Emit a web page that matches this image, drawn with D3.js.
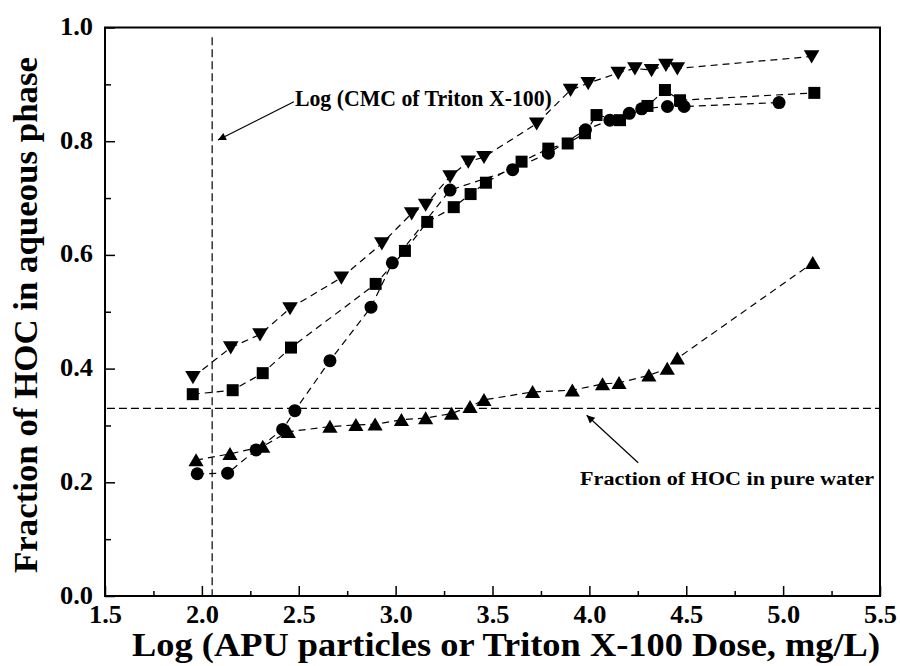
<!DOCTYPE html>
<html>
<head>
<meta charset="utf-8">
<script src="https://cdn.jsdelivr.net/npm/d3@7"></script>
<style>
  html, body { margin: 0; padding: 0; background: #fff; }
  svg { display: block; }
  text { font-family: "Liberation Serif", "Times New Roman", serif; font-weight: bold; fill: #000; }
</style>
</head>
<body>
<svg id="chart" width="900" height="666"></svg>
<script>
// ---- Data ----
const invTriX = [1.954, 2.149, 2.300, 2.455, 2.720, 2.929, 3.083, 3.155, 3.281, 3.375, 3.456, 3.728, 3.903, 3.994, 4.149, 4.235, 4.321, 4.395, 4.454, 5.147];
const invTriY = [0.385, 0.437, 0.460, 0.506, 0.560, 0.620, 0.673, 0.688, 0.738, 0.764, 0.772, 0.831, 0.890, 0.902, 0.920, 0.928, 0.925, 0.934, 0.928, 0.949];

const squareX = [1.953, 2.159, 2.314, 2.460, 2.897, 3.048, 3.163, 3.300, 3.387, 3.466, 3.650, 3.788, 3.888, 3.977, 4.037, 4.158, 4.300, 4.390, 4.468, 5.161];
const squareY = [0.355, 0.362, 0.392, 0.437, 0.549, 0.607, 0.658, 0.684, 0.707, 0.727, 0.764, 0.787, 0.796, 0.814, 0.846, 0.837, 0.862, 0.890, 0.872, 0.885];

const circleX = [1.976, 2.133, 2.280, 2.417, 2.480, 2.661, 2.873, 2.983, 3.281, 3.604, 3.788, 3.980, 4.106, 4.206, 4.270, 4.403, 4.489, 4.979];
const circleY = [0.215, 0.216, 0.257, 0.293, 0.326, 0.414, 0.508, 0.586, 0.714, 0.750, 0.779, 0.820, 0.837, 0.849, 0.857, 0.861, 0.861, 0.868];

const triX = [1.970, 2.145, 2.314, 2.446, 2.661, 2.795, 2.894, 3.030, 3.155, 3.289, 3.384, 3.456, 3.707, 3.912, 4.068, 4.153, 4.307, 4.402, 4.454, 5.153];
const triY = [0.239, 0.250, 0.263, 0.289, 0.298, 0.301, 0.302, 0.310, 0.313, 0.321, 0.333, 0.345, 0.359, 0.362, 0.373, 0.375, 0.388, 0.400, 0.418, 0.586];

const xTickLabels = ["1.5", "2.0", "2.5", "3.0", "3.5", "4.0", "4.5", "5.0", "5.5"];
const yTickLabels = ["0.0", "0.2", "0.4", "0.6", "0.8", "1.0"];

const cmcLog = 2.053;            // Log (CMC of Triton X-100)
const pureWaterFraction = 0.330; // Fraction of HOC in pure water

const xTitle = "Log (APU particles or Triton X-100 Dose, mg/L)";
const yTitle = "Fraction of HOC in aqueous phase";
const cmcLabel = "Log (CMC of Triton X-100)";
const waterLabel = "Fraction of HOC in pure water";

// ---- Layout ----
const svg = d3.select("#chart");
const plotL = 105, plotR = 880, plotT = 27.5, plotB = 596;

const x = d3.scaleLinear().domain([1.5, 5.5]).range([plotL, plotR]);
const y = d3.scaleLinear().domain([0, 1]).range([plotB, plotT]);

const xMajor = xTickLabels.map(Number);
const yMajor = yTickLabels.map(Number);
const xMinor = d3.range(1.75, 5.5, 0.5);
const yMinor = d3.range(0.1, 1.0, 0.2);

// ---- Axes (ticks pointing inward) ----
const xAxis = d3.axisBottom(x).tickValues(xMajor).tickSize(-10).tickPadding(16).tickFormat(d3.format(".1f"));
const gx = svg.append("g").attr("transform", `translate(0,${plotB})`).call(xAxis);
gx.select(".domain").remove();
gx.selectAll(".tick line").attr("stroke", "#000").attr("stroke-width", 1.5);
gx.selectAll(".tick text").attr("font-size", 25).attr("font-family", "Liberation Serif, serif").attr("font-weight", "bold")
  .attr("dy", "0.42em").attr("textLength", 33).attr("lengthAdjust", "spacingAndGlyphs");

const gxm = svg.append("g").attr("transform", `translate(0,${plotB})`)
  .call(d3.axisBottom(x).tickValues(xMinor).tickSize(-5).tickFormat(""));
gxm.select(".domain").remove();
gxm.selectAll(".tick line").attr("stroke", "#000").attr("stroke-width", 1.5);

const yAxis = d3.axisLeft(y).tickValues(yMajor).tickSize(-10).tickPadding(12).tickFormat(d3.format(".1f"));
const gy = svg.append("g").attr("transform", `translate(${plotL},0)`).call(yAxis);
gy.select(".domain").remove();
gy.selectAll(".tick line").attr("stroke", "#000").attr("stroke-width", 1.5);
gy.selectAll(".tick text").attr("font-size", 25).attr("font-family", "Liberation Serif, serif").attr("font-weight", "bold")
  .attr("dy", "0.28em").attr("textLength", 33).attr("lengthAdjust", "spacingAndGlyphs");

const gym = svg.append("g").attr("transform", `translate(${plotL},0)`)
  .call(d3.axisLeft(y).tickValues(yMinor).tickSize(-6).tickFormat(""));
gym.select(".domain").remove();
gym.selectAll(".tick line").attr("stroke", "#000").attr("stroke-width", 1.5);

// frame
svg.append("rect")
  .attr("x", plotL).attr("y", plotT)
  .attr("width", plotR - plotL).attr("height", plotB - plotT)
  .attr("fill", "none").attr("stroke", "#000").attr("stroke-width", 2);

// ---- Reference lines ----
svg.append("line")
  .attr("x1", x(cmcLog)).attr("x2", x(cmcLog))
  .attr("y1", y(0.983)).attr("y2", y(0))
  .attr("stroke", "#000").attr("stroke-width", 1.2).attr("stroke-dasharray", "8,4");
svg.append("line")
  .attr("x1", x(1.51)).attr("x2", x(5.5))
  .attr("y1", y(pureWaterFraction)).attr("y2", y(pureWaterFraction))
  .attr("stroke", "#000").attr("stroke-width", 1.2).attr("stroke-dasharray", "8,4");

// ---- Series ----
function zip(xs, ys) { return xs.map((v, i) => ({ x: v, y: ys[i] })); }
const series = [
  { name: "invTri", data: zip(invTriX, invTriY) },
  { name: "square", data: zip(squareX, squareY) },
  { name: "circle", data: zip(circleX, circleY) },
  { name: "tri", data: zip(triX, triY) }
];

const line = d3.line().x(d => x(d.x)).y(d => y(d.y));
svg.append("g").selectAll("path").data(series).join("path")
  .attr("d", s => line(s.data))
  .attr("fill", "none").attr("stroke", "#000").attr("stroke-width", 1.2)
  .attr("stroke-dasharray", "7,5");

function markerPath(name) {
  if (name === "circle") return d3.symbol(d3.symbolCircle, Math.PI * 6.5 * 6.5)();
  if (name === "square") return "M-6,-6H6V6H-6Z";
  if (name === "tri") return "M0,-6.8L7.6,6.2L-7.6,6.2Z";
  return "M0,7L7.8,-6.2L-7.8,-6.2Z";
}

series.forEach(s => {
  svg.append("g").selectAll("path").data(s.data).join("path")
    .attr("transform", d => `translate(${x(d.x)},${y(d.y)})`)
    .attr("d", markerPath(s.name))
    .attr("fill", "#000");
});

// ---- Annotations ----
svg.append("defs").append("marker")
  .attr("id", "arrow").attr("viewBox", "0 0 10 10")
  .attr("refX", 10).attr("refY", 5)
  .attr("markerWidth", 11).attr("markerHeight", 8)
  .attr("markerUnits", "userSpaceOnUse")
  .attr("orient", "auto")
  .append("path").attr("d", "M0,0L10,5L0,10Z").attr("fill", "#000");

svg.append("line")
  .attr("x1", x(2.475)).attr("y1", y(0.8695))
  .attr("x2", x(2.083)).attr("y2", y(0.802))
  .attr("stroke", "#000").attr("stroke-width", 1.2).attr("marker-end", "url(#arrow)");
svg.append("text")
  .attr("x", x(2.48)).attr("y", y(0.862))
  .attr("font-size", 23)
  .attr("textLength", 257).attr("lengthAdjust", "spacingAndGlyphs")
  .text(cmcLabel);

svg.append("line")
  .attr("x1", x(4.252)).attr("y1", y(0.2345))
  .attr("x2", x(3.986)).attr("y2", y(0.318))
  .attr("stroke", "#000").attr("stroke-width", 1.2).attr("marker-end", "url(#arrow)");
svg.append("text")
  .attr("x", x(3.952)).attr("y", y(0.195))
  .attr("font-size", 18)
  .attr("textLength", 294).attr("lengthAdjust", "spacingAndGlyphs")
  .text(waterLabel);

// ---- Titles ----
svg.append("text")
  .attr("x", 132).attr("y", 656)
  .attr("font-size", 34)
  .attr("textLength", 748).attr("lengthAdjust", "spacingAndGlyphs")
  .text(xTitle);

svg.append("text")
  .attr("transform", "translate(37,573) rotate(-90)")
  .attr("x", 0).attr("y", 0)
  .attr("font-size", 34)
  .attr("textLength", 516).attr("lengthAdjust", "spacingAndGlyphs")
  .text(yTitle);
</script>
</body>
</html>
